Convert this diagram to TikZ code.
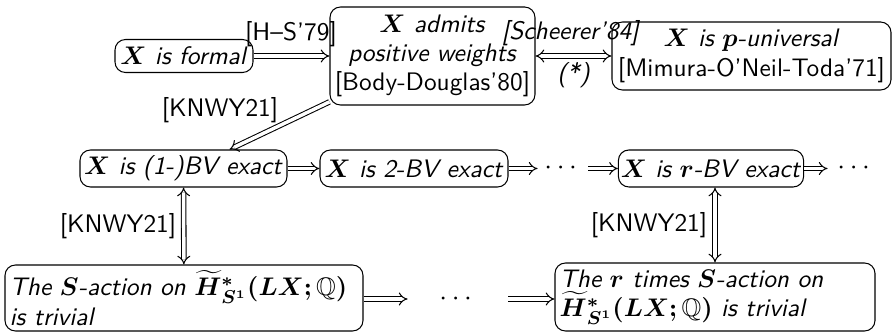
\documentclass[tikz,border=0pt]{standalone}
\usepackage{amsmath,amssymb,bm}
\usetikzlibrary{arrows.meta,calc}
\begin{document}
\begin{tikzpicture}[x=0.43pt,y=-0.43pt, font=\fontsize{10.9pt}{12.6pt}\selectfont\sffamily,
  box/.style={draw, rounded corners=4.5pt, line width=0.45pt, inner sep=1pt, align=center},
  dotsnode/.style={inner sep=0pt, minimum height=16*0.43pt, font=\fontsize{13pt}{14pt}\selectfont},
  lbl/.style={inner sep=0pt},
  imp/.style={double equal sign distance, line width=0.45pt, -Implies},
  iff/.style={double equal sign distance, line width=0.45pt, Implies-Implies}]
\useasboundingbox (0,0) rectangle (892,332);

% top row
\node[box, minimum width=138*0.43pt, minimum height=33*0.43pt] (formal) at (184,56) {$\bm X$ \textit{is formal}};
\node[box, minimum width=205*0.43pt, minimum height=98*0.43pt] (pw) at (432.5,56)
  {$\bm X$ \textit{admits}\\ \textit{positive weights}\\ {[Body-Douglas'80]}};
\node[box, minimum width=279*0.43pt, minimum height=68*0.43pt] (puni) at (751.5,56)
  {$\bm X$ \textit{is $\bm p$-universal}\\ {[Mimura-O'Neil-Toda'71]}};

% middle row
\node[box, minimum width=207*0.43pt, minimum height=37*0.43pt] (bv1) at (183.5,168.5) {$\bm X$ \textit{is (1-)BV exact}};
\node[box, minimum width=188*0.43pt, minimum height=37*0.43pt] (bv2) at (414,168.5) {$\bm X$ \textit{is 2-BV exact}};
\node[dotsnode, minimum width=50*0.43pt] (dots1) at (563,168.5) {$\cdots$};
\node[box, minimum width=184*0.43pt, minimum height=37*0.43pt] (bvr) at (711,168.5) {$\bm X$ \textit{is $\bm r$-BV exact}};
\node[dotsnode, minimum width=56*0.43pt] (dots2) at (856,168.5) {$\cdots$};

% bottom row
\node[box, align=left, inner xsep=2pt, text width=358*0.43pt-4pt, minimum height=66*0.43pt] (sl) at (184,298)
  {\textit{The $\bm S$-action on $\widetilde{\bm H}{}^{\bm *}_{\bm{S^1}}\bm{(LX;}\mathbb{Q}\bm{)}$}\\ \textit{is trivial}};
\node[dotsnode, minimum width=100*0.43pt] (dots3) at (458,299) {$\cdots$};
\node[box, align=left, inner xsep=2pt, text width=320*0.43pt-4pt, minimum height=68*0.43pt] (sr) at (715,297)
  {\textit{The $\bm r$ times $\bm S$-action on}\\ $\widetilde{\bm H}{}^{\bm *}_{\bm{S^1}}\bm{(LX;}\mathbb{Q}\bm{)}$ \textit{is trivial}};

% connectors
\draw[imp] (formal) -- (pw);
\node[lbl] (lhs) at (291,34) {[H--S'79]};
\draw[iff] (pw) -- (puni);
\node[lbl] (lsch) at (571,33) {\textit{[Scheerer'84]}};
\node[lbl] (lstar) at (574,75) {\textit{(*)}};
\draw[imp] (pw.204) -- ($(bv1.north)+(46,0)$);
\node[lbl] (lk1) at (220,110) {[KNWY21]};

\draw[imp] (bv1) -- (bv2);
\draw[imp] (bv2) -- (dots1);
\draw[imp] (dots1) -- (bvr);
\draw[imp] (bvr) -- (dots2);

\draw[iff] (bv1) -- (sl);
\node[lbl] (lk2) at (118,226) {[KNWY21]};
\draw[iff] (sr.north |- bvr.south) -- (sr.north);
\node[lbl] (lk3) at (649,225) {[KNWY21]};

\draw[imp] (sl.east |- dots3.west) -- (dots3.west);
\draw[imp] (dots3.east) -- (dots3.east -| sr.west);
\end{tikzpicture}
\end{document}
